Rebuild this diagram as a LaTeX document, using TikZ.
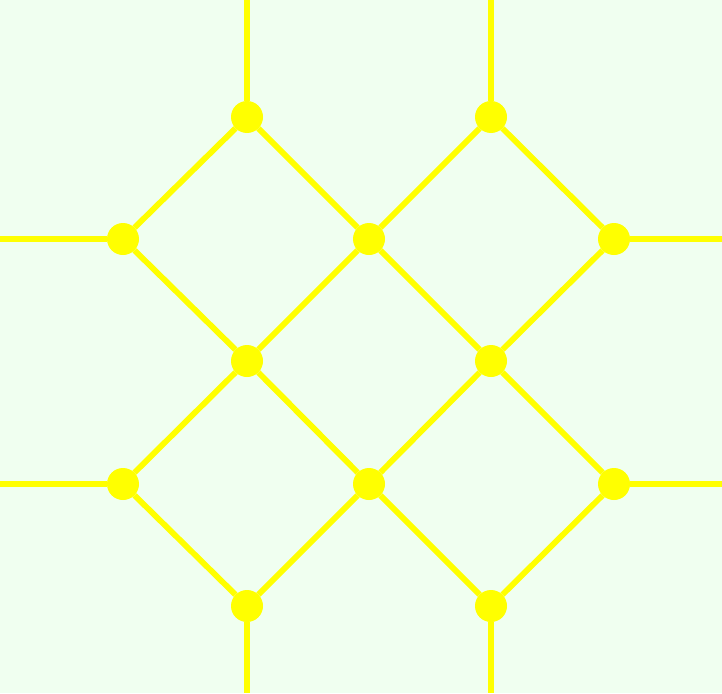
\documentclass[tikz,border=0pt]{standalone}
\usepackage{xcolor}
\definecolor{bgmint}{HTML}{F0FFF0}
\definecolor{lineyel}{HTML}{FFFF00}
\tikzset{
  bond/.style={line width=5.8pt, color=lineyel},
  dot/.style={circle, fill=lineyel, draw=none, minimum size=32pt, inner sep=0pt}
}
\begin{document}
\begin{tikzpicture}[x=1pt, y=-1pt]
\fill[bgmint] (0,0) rectangle (722,693);
\useasboundingbox (0,0) rectangle (722,693);
% lattice points
\node[dot] (a1) at (247,117) {};
\node[dot] (a2) at (491,117) {};
\node[dot] (b1) at (123,239) {};
\node[dot] (b2) at (369,239) {};
\node[dot] (b3) at (614,239) {};
\node[dot] (c1) at (247,361) {};
\node[dot] (c2) at (491,361) {};
\node[dot] (d1) at (123,484) {};
\node[dot] (d2) at (369,484) {};
\node[dot] (d3) at (614,484) {};
\node[dot] (e1) at (247,606) {};
\node[dot] (e2) at (491,606) {};
% loose ends at the border
\coordinate (ta1) at (247,0);
\coordinate (ta2) at (491,0);
\coordinate (lb) at (0,239);
\coordinate (rb) at (722,239);
\coordinate (ld) at (0,484);
\coordinate (rd) at (722,484);
\coordinate (be1) at (247,693);
\coordinate (be2) at (491,693);
\foreach \u/\v in {ta1/a1, ta2/a2, lb/b1, b3/rb, ld/d1, d3/rd, e1/be1, e2/be2,
  a1/b1, a1/b2, a2/b2, a2/b3,
  b1/c1, b2/c1, b2/c2, b3/c2,
  c1/d1, c1/d2, c2/d2, c2/d3,
  d1/e1, d2/e1, d2/e2, d3/e2} {
  \draw[bond] (\u) -- (\v);
}
\end{tikzpicture}
\end{document}
